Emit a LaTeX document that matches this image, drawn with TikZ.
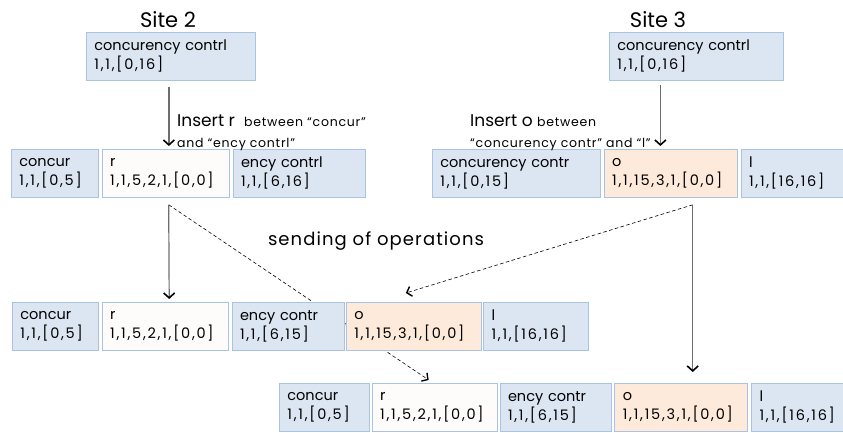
\documentclass[tikz,border=0pt]{standalone}
\usepackage{fontspec}
\setmainfont{Poppins}
\usetikzlibrary{positioning,arrows.meta,backgrounds}

\definecolor{segblue}{HTML}{DCE6F2}
\definecolor{segline}{HTML}{A9C3E3}
\definecolor{segorange}{HTML}{FDEADA}
\definecolor{segwhite}{HTML}{FDFCFA}
\definecolor{flowgray}{HTML}{6E6E6E}

\tikzset{
  seg/.style={draw=segline, line width=0.8pt, fill=segblue, minimum height=48pt,
    inner xsep=8pt, inner ysep=0pt, align=left, anchor=north west,
    font=\fontsize{14.5}{19}\selectfont},
  newseg/.style={seg, fill=segwhite},
  remseg/.style={seg, fill=segorange},
  flow/.style={draw=flowgray, line width=1.2pt,
    -{Straight Barb[black,line width=1.6pt,length=5pt,width=11pt]}},
  sent/.style={dash pattern=on 3.5pt off 2.5pt, line width=0.6pt,
    -{Straight Barb[line width=1.4pt,length=4.5pt,width=10pt]}},
  site/.style={anchor=base, font=\fontsize{21}{24}\selectfont},
  oplabel/.style={anchor=north west, align=left, inner sep=0pt,
    font=\fontsize{17}{21}\selectfont},
}
\newcommand{\smalltxt}[1]{{\fontsize{12.5}{21}\selectfont\addfontfeatures{LetterSpace=6}#1}}
\newcommand{\nums}[1]{{\addfontfeatures{LetterSpace=12}#1}}

\begin{document}
\begin{tikzpicture}[x=1pt,y=-1pt]
\useasboundingbox (0,0) rectangle (843,432);
\clip (0,0) rectangle (843,432);

% site 2
\node[site] (title2) at (168,27) {Site 2};
\node[seg, text width=153pt] (docA) at (86,32) {concurency contrl\\\nums{1,1,[0,16]}};
\node[seg, text width=71pt] (concurA) at (11,149) {concur\\\nums{1,1,[0,5]}};
\node[newseg, text width=111pt, right=3pt of concurA] (rA) {r\\\nums{1,1,5,2,1,[0,0]}};
\node[seg, text width=116pt, right=3pt of rA] (encyA) {ency contrl\\\nums{1,1,[6,16]}};
\node[oplabel] (insA) at (177,114) {Insert r \ \smalltxt{between “concur”}\\\smalltxt{and “ency contrl”}};

% site 3
\node[site] (title3) at (658,27) {Site 3};
\node[seg, text width=158pt] (docB) at (609,32) {concurency contrl\\\nums{1,1,[0,16]}};
\node[seg, text width=152pt] (concurB) at (432,149) {concurency contr\\\nums{1,1,[0,15]}};
\node[remseg, text width=117pt, right=3pt of concurB] (oB) {o\\\nums{1,1,15,3,1,[0,0]}};
\node[seg, text width=92pt, right=3pt of oB] (lB) {l\\\nums{1,1,[16,16]}};
\node[oplabel] (insB) at (470,114) {Insert o \smalltxt{between}\\\smalltxt{“concurency contr” and “l”}};

% after receiving, site 2
\node[seg, text width=70pt] (concurC) at (12,302) {concur\\\nums{1,1,[0,5]}};
\node[newseg, text width=110pt, right=3pt of concurC] (rC) {r\\\nums{1,1,5,2,1,[0,0]}};
\node[seg, text width=96pt, right=3pt of rC] (encyC) {ency contr\\\nums{1,1,[6,15]}};
\node[remseg, text width=119pt, right=1.5pt of encyC] (oC) {o\\\nums{1,1,15,3,1,[0,0]}};
\node[seg, text width=89pt, right=1.5pt of oC] (lC) {l\\\nums{1,1,[16,16]}};

% after receiving, site 3
\node[seg, text width=74pt] (concurD) at (279,383) {concur\\\nums{1,1,[0,5]}};
\node[newseg, text width=109pt, right=2pt of concurD] (rD) {r\\\nums{1,1,5,2,1,[0,0]}};
\node[seg, text width=95pt, right=2pt of rD] (encyD) {ency contr\\\nums{1,1,[6,15]}};
\node[remseg, text width=117pt, right=3pt of encyD] (oD) {o\\\nums{1,1,15,3,1,[0,0]}};
\node[seg, text width=88pt, right=3pt of oD] (lD) {l\\\nums{1,1,[16,16]}};

\node[anchor=base, font=\fontsize{18}{20}\selectfont\addfontfeatures{LetterSpace=6}] (sending) at (376,245) {sending of operations};

\draw[flow] ([xshift=-2pt,yshift=-6pt]docA.south) -- ([xshift=-2pt,yshift=3pt]docA.south |- rA.north);
\draw[flow] ([xshift=-36pt,yshift=-4pt]docB.south) -- ([xshift=-36pt,yshift=3pt]docB.south |- oB.north);
\draw[flow] ([xshift=3pt,yshift=-7pt]rA.south) -- ([xshift=4pt,yshift=3pt]rC.north);
\draw[flow] ([xshift=22pt,yshift=-7pt]oB.south) -- ([xshift=22pt,yshift=11pt]oB.south |- oD.north);

\begin{scope}[on background layer]
\draw[sent] ([xshift=3pt,yshift=-7pt]rA.south) -- ([xshift=-6pt,yshift=3pt]rD.north);
\draw[sent] ([xshift=22pt,yshift=-7pt]oB.south) -- ([xshift=-8pt,yshift=9pt]oC.north);
\end{scope}
\end{tikzpicture}
\end{document}
